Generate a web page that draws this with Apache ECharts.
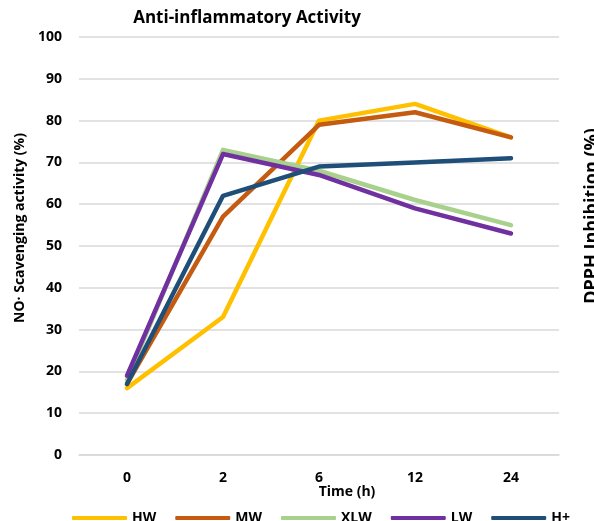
<!DOCTYPE html>
<html><head><meta charset="utf-8">
<script src="https://cdn.jsdelivr.net/npm/echarts@6/dist/echarts.min.js"></script>
<style>html,body{margin:0;padding:0;background:#fff}#c{width:594px;height:521px}</style>
</head><body><div id="c"></div>
<script>
const categories = ['0', '2', '6', '12', '24'];
const seriesNames = ['HW', 'MW', 'XLW', 'LW', 'H+'];
const hw  = [16, 33, 80, 84, 76];
const mw  = [17, 57, 79, 82, 76];
const xlw = [18, 73, 68, 61, 55];
const lw  = [19, 72, 67, 59, 53];
const hplus = [17, 62, 69, 70, 71];
const colors = ['#FFC000', '#C55A11', '#A9D18E', '#7030A0', '#1F4E79'];
const values = [hw, mw, xlw, lw, hplus];
const FONT = '"Open Sans", sans-serif';

const chart = echarts.init(document.getElementById('c'));
chart.setOption({
  animation: false,
  textStyle: { fontFamily: FONT },
  title: {
    text: 'Anti-inflammatory Activity',
    left: 242, top: 5, textAlign: 'center',
    textStyle: { fontFamily: FONT, fontSize: 17, fontWeight: 'bold', color: '#000' }
  },
  grid: { left: 79, right: 35, top: 37, bottom: 66 },
  xAxis: {
    type: 'category', data: categories, boundaryGap: true,
    axisLine: { lineStyle: { color: '#d9d9d9', width: 1.5 } },
    axisTick: { show: false },
    axisLabel: { margin: 16, color: '#000', fontWeight: 'bold', fontSize: 14, fontFamily: FONT }
  },
  yAxis: {
    type: 'value', min: 0, max: 100, interval: 10,
    axisLine: { show: false }, axisTick: { show: false },
    splitLine: { lineStyle: { color: '#d9d9d9', width: 1.5 } },
    axisLabel: { margin: 17, color: '#000', fontWeight: 'bold', fontSize: 14, fontFamily: FONT }
  },
  legend: {
    left: 67, top: 506, itemWidth: 55, itemHeight: 4, itemGap: 19,
    icon: 'roundRect',
    textStyle: { color: '#000', fontWeight: 'bold', fontSize: 14, fontFamily: FONT },
    data: seriesNames
  },
  graphic: [
    { type: 'text', rotation: Math.PI / 2, x: 20, y: 228,
      style: { text: 'NO· Scavenging activity (%)', font: 'bold 14px "Open Sans"', fill: '#000', textAlign: 'center', textVerticalAlign: 'middle' } },
    { type: 'text', rotation: Math.PI / 2, x: 592, y: 216,
      style: { text: 'DPPH Inhibition (%)', font: 'bold 18px "Open Sans"', fill: '#000', textAlign: 'center', textVerticalAlign: 'middle' } },
    { type: 'text', x: 347, y: 492,
      style: { text: 'Time (h)', font: 'bold 14px "Open Sans"', fill: '#000', textAlign: 'center', textVerticalAlign: 'middle' } }
  ],
  series: seriesNames.map((n, i) => ({
    name: n, type: 'line', data: values[i], symbol: 'none',
    lineStyle: { color: colors[i], width: 4.5, cap: 'round', join: 'round' },
    itemStyle: { color: colors[i] }
  }))
});
</script></body></html>
